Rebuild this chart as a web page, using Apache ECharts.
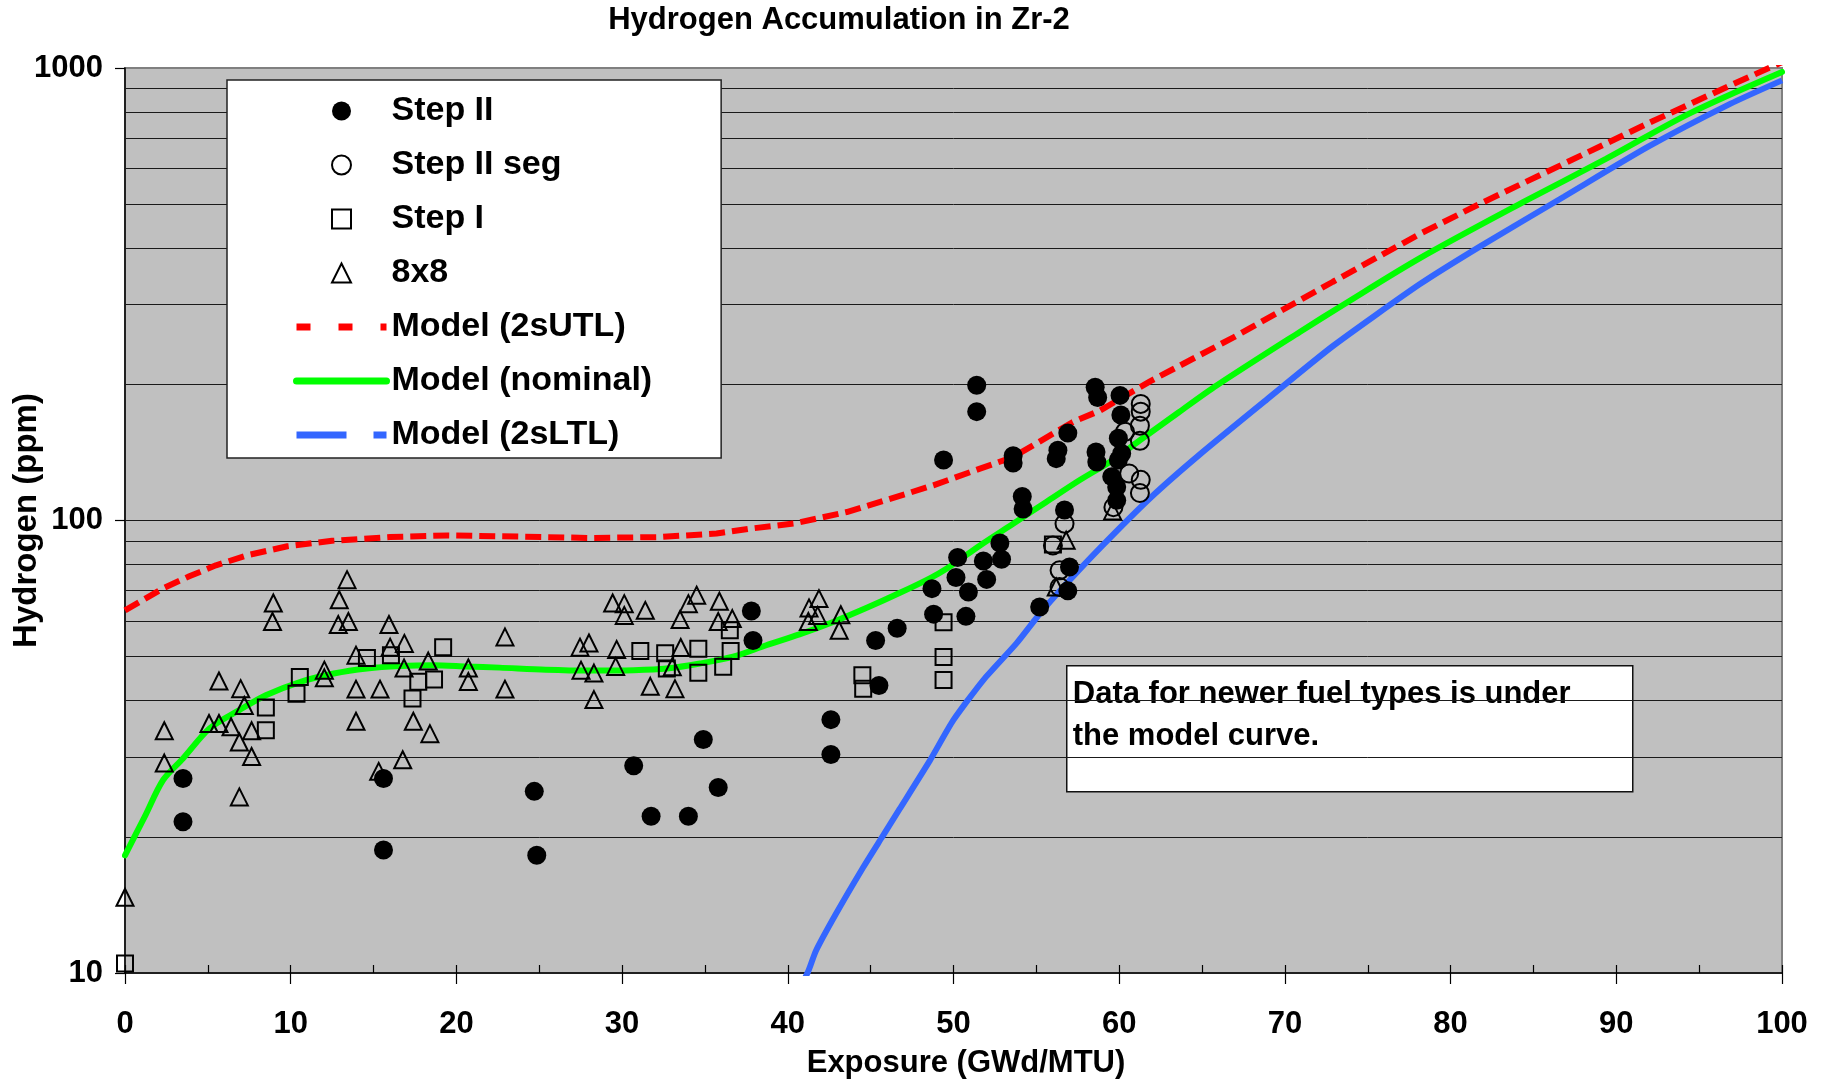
<!DOCTYPE html>
<html><head><meta charset="utf-8">
<script src="https://cdn.jsdelivr.net/npm/echarts@6/dist/echarts.min.js"></script>
<style>html,body{margin:0;padding:0;background:#fff}#c{width:1825px;height:1083px}</style>
</head><body><div id="c"></div>
<script>
// ---- data (Exposure GWd/MTU, Hydrogen ppm) ----
const stepII = [
  [3.5,26.9],[3.5,21.6],[15.6,26.9],[15.6,18.7],[24.7,25.2],[24.85,18.2],
  [30.7,28.7],[31.75,22.2],[34.0,22.2],[34.9,32.8],[35.8,25.7],[37.8,63.1],[37.9,54.3],
  [42.6,36.3],[42.6,30.4],[45.3,54.3],[46.6,57.8],[45.5,43.2],
  [51.4,199],[51.4,174],[49.4,136],[53.6,139],[53.6,134],[56.3,143],[56.2,137],[56.9,156],
  [54.15,113],[54.2,106],[56.7,105.5],
  [48.7,70.7],[48.8,62.1],[50.25,82.8],[50.15,74.8],[50.9,69.5],[50.75,61.4],[51.8,81.4],[52.0,74.1],[52.8,89.2],[52.9,82.1],
  [55.2,64.4],[57.0,78.9],[56.9,69.9],
  [58.55,197],[58.7,187],[60.05,189],[60.1,171],[59.95,152],[60.15,140.6],[58.6,141.7],[58.65,134.6],[59.95,136],[59.55,125],[59.85,118.6],[59.85,110.8]
];
const stepIIseg = [
  [61.3,181],[61.3,174],[61.25,162],[61.25,150],[60.35,157],[60.6,127],[61.3,123],[61.25,115],[59.65,107],
  [56.7,98.4],[56.0,88.1],[56.4,77.6],[56.4,71.3]
];
const stepI = [
  [0,10.5],[8.5,38.6],[8.5,34.4],[10.35,41.4],[10.55,45.1],[14.6,49.7],[16.05,50.4],[17.7,44.0],[18.65,44.5],[17.35,40.4],[19.2,52.5],
  [31.1,51.5],[32.6,50.9],[32.7,47.1],[34.6,52.1],[34.6,46.1],[36.1,47.5],[36.55,51.5],[36.5,57.2],[44.5,45.5],[44.55,42.5],
  [49.4,59.6],[49.4,49.9],[49.4,44.4],[56.0,88.5]
];
const type8x8 = [
  [0,14.7],
  [2.37,34.3],[2.37,29.1],[5.67,44.2],[6.98,42.5],[7.2,39.0],[5.07,35.6],[5.67,35.6],[6.4,35.0],[6.9,32.4],[7.64,34.3],[7.64,30.1],[6.9,24.5],
  [8.95,65.7],[8.9,59.8],[13.4,74.0],[12.93,66.8],[13.48,59.8],[12.87,58.9],[12.03,46.7],[12.03,44.9],[13.94,50.4],[13.94,42.4],[13.94,36.0],
  [15.93,58.9],[16.0,52.5],[16.86,53.5],[16.84,47.2],[15.39,42.4],[18.3,48.9],[17.4,36.0],[18.4,33.8],[16.76,29.6],[15.31,27.9],
  [20.72,47.2],[20.72,44.1],[22.93,55.3],[22.93,42.4],
  [27.46,52.5],[28.0,53.6],[27.52,46.7],[28.3,46.0],[28.3,40.2],[29.43,65.7],[30.13,65.5],[30.13,61.7],[31.4,63.3],[29.67,51.9],[29.61,47.6],
  [31.7,43.0],[33.19,42.5],[33.54,52.4],[33.03,47.5],[33.5,60.4],[34.0,65.5],[34.5,68.4],[35.87,66.3],[35.8,59.8],[36.65,60.7],
  [41.28,64.1],[41.88,67.2],[41.8,61.7],[41.24,59.8],[43.2,61.9],[43.1,57.2],
  [56.8,90.4],[56.2,71.3],[59.6,105]
];
const modelUTL = [
  [0,63.3],[2.26,70.7],[3.88,75.3],[5.49,79.6],[7.38,83.8],[9.8,87.7],[12.5,90.2],[16,91.9],[19.5,92.7],[25.4,91.9],[28.1,91.5],
  [32.2,91.9],[35.7,93.6],[37.8,96.0],[40.4,98.5],[43.56,104.4],[47.2,114.7],[48.78,119.6],[51.6,130.2],[53.6,138.1],[57.2,165],
  [58.85,175],[61.86,203],[66.9,254],[72.9,337],[78.15,430],[81.86,503],[86.86,615],[91.9,754],[96.9,916],[100,1030]
];
const modelNominal = [
  [0,18.2],[1.2,22.2],[2.3,26.7],[3.5,29.8],[5.1,34.7],[6.9,38.1],[8.5,41.1],[10.6,44.0],[12.6,45.9],[14.6,47.1],[16.6,47.7],[18.6,47.9],
  [20.6,47.6],[22.6,47.3],[25.4,46.8],[28,46.6],[30.7,46.7],[32.7,47.1],[34.7,48.3],[36.7,50.0],[38.7,53.0],[40.7,56.0],[42.7,59.6],
  [44.8,64.2],[46.8,69.3],[48.6,74.6],[49.6,78.3],[51.6,88.1],[53.6,98.4],[55.6,109.9],[57.6,122.7],[59.6,135.9],[61.25,150.4],[63.6,173.5],
  [65.9,199],[70.9,261],[73.6,301],[78.15,380],[84.4,505.8],[89.4,630.5],[94.4,793],[100,980]
];
const modelLTL = [
  [40.3,8.6],[41.24,10.1],[41.7,11.2],[42.9,13.5],[44.5,17.0],[45.7,20.0],[46.77,23.1],[48.58,29.5],[49.99,36.2],[51.8,44.4],
  [53.8,53.5],[55.22,62.3],[56.63,71.3],[58.85,87],[61.86,112],[64.87,140],[68.9,185],[72.9,243],[78.15,333],
  [81.86,405],[86.86,520],[91.9,669],[96.9,834],[100,939]
];
const minorGridValues = [20,30,40,50,60,70,80,90,100,200,300,400,500,600,700,800,900];
const noteLines = ['Data for newer fuel types is under', 'the model curve.'];

const FONT = '"Liberation Sans", Arial, sans-serif';
const chart = echarts.init(document.getElementById('c'), null, {renderer: 'canvas'});
const gridTop = 68, gridBottom = 110, gridH = 1083 - gridTop - gridBottom;

const hollow = {color: 'rgba(0,0,0,0)', borderColor: '#000', borderWidth: 2, opacity: 1};
const SQUARE = 'path://M0,0L10,0L10,10L0,10Z';
const TRIANGLE = 'path://M5,0L10,10L0,10Z';
const noDot = {color: 'rgba(0,0,0,0)', borderWidth: 0, opacity: 0};

chart.setOption({
  animation: false,
  backgroundColor: '#fff',
  title: {
    text: 'Hydrogen Accumulation in Zr-2',
    left: 839, top: 5, textAlign: 'center', padding: 0,
    textStyle: {fontFamily: FONT, fontWeight: 'bold', fontSize: 31, color: '#000'}
  },
  grid: {
    left: 125, right: 43, top: gridTop, bottom: gridBottom,
    outerBoundsMode: 'none', containLabel: false,
    show: true, backgroundColor: '#C0C0C0', borderColor: '#808080', borderWidth: 2
  },
  legend: {
    orient: 'vertical', left: 227, top: 80,
    backgroundColor: '#fff', borderColor: '#222', borderWidth: 1.5,
    padding: [14, 69, 6, 66],
    itemWidth: 90, itemHeight: 19, itemGap: 20,
    symbolKeepAspect: true,
    textStyle: {fontFamily: FONT, fontWeight: 'bold', fontSize: 34, color: '#000', lineHeight: 34},
    data: [
      {name: 'Step II'},
      {name: 'Step II seg'},
      {name: 'Step I'},
      {name: '8x8'},
      {name: 'Model (2sUTL)', itemStyle: noDot, lineStyle: {type: [14, 28], width: 7, color: '#FF0000'}},
      {name: 'Model (nominal)', itemStyle: noDot, lineStyle: {type: 'solid', width: 7, color: '#00FF00', cap: 'round'}},
      {name: 'Model (2sLTL)', itemStyle: noDot, lineStyle: {type: [50, 27], width: 7, color: '#3366FF'}}
    ]
  },
  xAxis: [{
    type: 'value', min: 0, max: 100, interval: 10, position: 'bottom',
    name: 'Exposure (GWd/MTU)', nameLocation: 'middle', nameGap: 75, nameMoveOverlap: false,
    nameTextStyle: {fontFamily: FONT, fontWeight: 'bold', fontSize: 31, color: '#000', padding: [0, 0, 0, 25]},
    axisLine: {show: true, onZero: false, lineStyle: {color: '#000', width: 1.5}},
    axisTick: {show: true, inside: false, length: 11, lineStyle: {color: '#000', width: 1.2}},
    axisLabel: {margin: 36, fontFamily: FONT, fontWeight: 'bold', fontSize: 31, color: '#000'},
    splitLine: {show: false}
  }, {
    type: 'value', min: 0, max: 100, interval: 5, position: 'top', offset: -gridH,
    axisLine: {show: false},
    axisTick: {show: true, inside: false, length: 8, lineStyle: {color: '#000', width: 1.2}},
    axisLabel: {show: false}, splitLine: {show: false}
  }],
  yAxis: {
    type: 'log', logBase: 10, min: 10, max: 1000,
    name: 'Hydrogen (ppm)', nameLocation: 'middle', nameGap: 82, nameMoveOverlap: false,
    nameTextStyle: {fontFamily: FONT, fontWeight: 'bold', fontSize: 33, color: '#000'},
    axisLine: {show: true, onZero: false, lineStyle: {color: '#000', width: 1.5}},
    axisTick: {show: true, inside: false, length: 10, lineStyle: {color: '#000', width: 1.2}},
    axisLabel: {margin: 22, fontFamily: FONT, fontWeight: 'bold', fontSize: 31, color: '#000',
                formatter: v => String(Math.round(v))},
    splitLine: {show: false}
  },
  graphic: [{
    type: 'group', left: 1066, top: 665, z: 100,
    children: [
      {type: 'rect', shape: {x: 0, y: 0, width: 566, height: 126},
       style: {fill: '#fff', stroke: '#111', lineWidth: 1.5}},
      {type: 'text', x: 6, y: 8,
       style: {text: noteLines.join('\n'), fill: '#000', font: 'bold 31px ' + FONT, lineHeight: 42}}
    ]
  }],
  series: [
    {
      name: 'gridlines', type: 'line', data: [], z: 1, silent: true,
      markLine: {
        silent: true, symbol: ['none', 'none'], z: 1, animation: false,
        label: {show: false},
        lineStyle: {type: 'solid', color: '#1a1a1a', width: 1},
        emphasis: {disabled: true},
        data: minorGridValues.map(v => ({yAxis: v}))
      }
    },
    {
      name: 'Model (2sUTL)', type: 'line', data: modelUTL, showSymbol: false, symbol: 'none', z: 3,
      lineStyle: {color: '#FF0000', width: 6, type: [16, 7]}, itemStyle: {color: '#FF0000'}
    },
    {
      name: 'Model (nominal)', type: 'line', data: modelNominal, showSymbol: false, symbol: 'none', z: 3, smooth: 0.3,
      lineStyle: {color: '#00FF00', width: 6, cap: 'round'}, itemStyle: {color: '#00FF00'}
    },
    {
      name: 'Model (2sLTL)', type: 'line', data: modelLTL, showSymbol: false, symbol: 'none', z: 3, smooth: 0.2,
      lineStyle: {color: '#3366FF', width: 6}, itemStyle: {color: '#3366FF'}
    },
    {
      name: 'Step II', type: 'scatter', data: stepII, symbol: 'circle', symbolSize: 19, z: 4,
      itemStyle: {color: '#000', opacity: 1}
    },
    {
      name: 'Step II seg', type: 'scatter', data: stepIIseg, symbol: 'circle', symbolSize: 18, z: 4,
      itemStyle: hollow
    },
    {
      name: 'Step I', type: 'scatter', data: stepI, symbol: SQUARE, symbolSize: 16, symbolKeepAspect: true, z: 4,
      itemStyle: hollow
    },
    {
      name: '8x8', type: 'scatter', data: type8x8, symbol: TRIANGLE, symbolSize: 17, symbolKeepAspect: true, z: 4,
      itemStyle: hollow
    }
  ]
});
</script>
</body></html>
